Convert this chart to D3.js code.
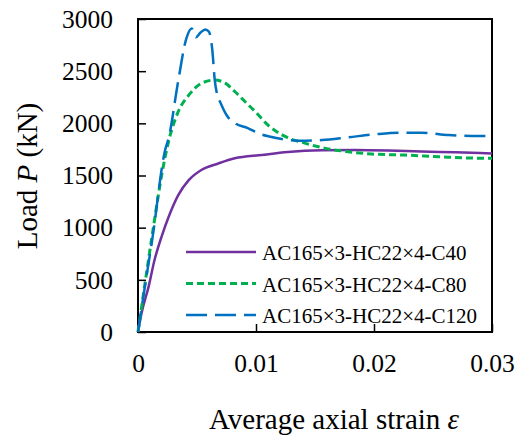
<!DOCTYPE html>
<html>
<head>
<meta charset="utf-8">
<script src="https://cdn.jsdelivr.net/npm/d3@7"></script>
<style>
  body { margin: 0; background: #fff; }
  svg { display: block; font-family: "Times New Roman", "Liberation Serif", serif; }
</style>
</head>
<body>
<svg id="chart" width="522" height="441"></svg>
<script>
// series
var strainC40 = [0, 0.0003, 0.0009, 0.0014, 0.002, 0.0026, 0.0034, 0.0043, 0.0054, 0.0068, 0.0082, 0.0105, 0.0127, 0.0156, 0.0184, 0.0212, 0.024, 0.0269, 0.03];
var loadC40   = [0, 180, 435, 690, 915, 1105, 1310, 1455, 1555, 1615, 1665, 1697, 1725, 1742, 1745, 1740, 1730, 1722, 1712];

var strainC80 = [0, 0.0006, 0.0013, 0.002, 0.0026, 0.0034, 0.0043, 0.0054, 0.0065, 0.0074, 0.0082, 0.0091, 0.01, 0.011, 0.0125, 0.0142, 0.0159, 0.0178, 0.0198, 0.0226, 0.0255, 0.0283, 0.03];
var loadC80   = [0, 470, 1000, 1500, 1830, 2110, 2270, 2385, 2415, 2385, 2305, 2205, 2105, 1985, 1872, 1808, 1760, 1728, 1706, 1696, 1680, 1667, 1665];

var strainC120 = [0, 0.0004, 0.0012, 0.0023, 0.0026, 0.0034, 0.0041, 0.00455, 0.0049, 0.0053, 0.0057, 0.006, 0.0063, 0.0065, 0.0067, 0.007, 0.0075, 0.0082, 0.0093, 0.0102, 0.0116, 0.0136, 0.0156, 0.0178, 0.0201, 0.0221, 0.024, 0.0263, 0.0283, 0.03];
var loadC120   = [0, 300, 880, 1745, 1860, 2400, 2815, 2910, 2825, 2870, 2900, 2880, 2700, 2420, 2280, 2195, 2080, 2003, 1955, 1905, 1862, 1834, 1840, 1866, 1895, 1910, 1910, 1888, 1879, 1878];

var seriesNames = ['AC165×3-HC22×4-C40', 'AC165×3-HC22×4-C80', 'AC165×3-HC22×4-C120'];
var xTicks = [0, 0.01, 0.02, 0.03];
var xTickLabels = ['0', '0.01', '0.02', '0.03'];
var yTicks = [0, 500, 1000, 1500, 2000, 2500, 3000];

var series = [
  { name: seriesNames[0], x: strainC40, y: loadC40, color: '#7030a0', dash: null, width: 2.5 },
  { name: seriesNames[1], x: strainC80, y: loadC80, color: '#00b050', dash: '7,4', width: 3 },
  { name: seriesNames[2], x: strainC120, y: loadC120, color: '#0070c0', dash: '21,8', width: 2.5 }
];

var margin = { left: 138, top: 19, right: 30, bottom: 109 };
var width = 522 - margin.left - margin.right;
var height = 441 - margin.top - margin.bottom;

var svg = d3.select('#chart');
var g = svg.append('g')
  .attr('transform', 'translate(' + margin.left + ',' + margin.top + ')');

var x = d3.scaleLinear().domain([0, 0.03]).range([0, width]);
var y = d3.scaleLinear().domain([0, 3000]).range([height, 0]);

// axes, ticks inward
var xAxis = g.append('g')
  .attr('transform', 'translate(0,' + height + ')')
  .call(d3.axisBottom(x)
    .tickValues(xTicks)
    .tickFormat(function(d, i) { return xTickLabels[i]; })
    .tickSizeInner(-8)
    .tickSizeOuter(0)
    .tickPadding(22));

var yAxis = g.append('g')
  .call(d3.axisLeft(y)
    .tickValues(yTicks)
    .tickFormat(d3.format('d'))
    .tickSizeInner(-8)
    .tickSizeOuter(0)
    .tickPadding(25));

[xAxis, yAxis].forEach(function(a) {
  a.attr('font-family', null).attr('font-size', null);
  a.select('.domain').remove();
  a.selectAll('line').attr('stroke', '#000').attr('stroke-width', 1.5);
  a.selectAll('text')
    .attr('fill', '#000')
    .style('font-size', '25.5px');
});

// plot frame
g.append('rect')
  .attr('x', 0)
  .attr('y', 0)
  .attr('width', width)
  .attr('height', height)
  .attr('fill', 'none')
  .attr('stroke', '#000')
  .attr('stroke-width', 2);

var line = d3.line()
  .x(function(d) { return x(d[0]); })
  .y(function(d) { return y(d[1]); })
  .curve(d3.curveMonotoneX);

series.forEach(function(s) {
  var pts = s.x.map(function(v, i) { return [v, s.y[i]]; });
  g.append('path')
    .datum(pts)
    .attr('fill', 'none')
    .attr('stroke', s.color)
    .attr('stroke-width', s.width)
    .attr('stroke-dasharray', s.dash)
    .attr('d', line);
});

// legend
var legend = g.append('g')
  .attr('transform', 'translate(48,233)');

series.forEach(function(s, i) {
  var row = legend.append('g').attr('transform', 'translate(0,' + (i * 31.5) + ')');
  row.append('line')
    .attr('x1', 0)
    .attr('x2', 70)
    .attr('y1', 0)
    .attr('y2', 0)
    .attr('stroke', s.color)
    .attr('stroke-width', s.width)
    .attr('stroke-dasharray', s.dash);
  row.append('text')
    .attr('x', 76)
    .attr('y', 8)
    .style('font-size', '21px')
    .text(s.name);
});

// axis titles
var xTitle = svg.append('text')
  .attr('x', 334)
  .attr('y', 429)
  .attr('text-anchor', 'middle')
  .style('font-size', '29px');
xTitle.append('tspan').text('Average axial strain ');
xTitle.append('tspan').style('font-style', 'italic').text('ε');

var yTitle = svg.append('text')
  .attr('transform', 'translate(37,176) rotate(-90)')
  .attr('text-anchor', 'middle')
  .style('font-size', '29px');
yTitle.append('tspan').text('Load ');
yTitle.append('tspan').style('font-style', 'italic').text('P');
yTitle.append('tspan').text(' (kN)');
</script>
</body>
</html>
